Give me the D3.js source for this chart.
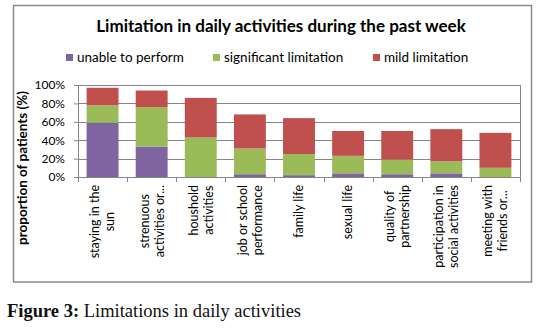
<!DOCTYPE html>
<html>
<head>
<meta charset="utf-8">
<script src="https://cdn.jsdelivr.net/npm/d3@7"></script>
<style>
  body { margin: 0; background: #fff; }
  svg { display: block; }
</style>
</head>
<body>
<div id="chart"></div>
<script>
// data
const categories = [
  'staying in the sun',
  'strenuous activities or...',
  'houshold activities',
  'job or school performance',
  'family life',
  'sexual life',
  'quality of partnership',
  'participation in social activities',
  'meeting with friends or...'
]
const categoryLines = [
  ['staying in the', 'sun'],
  ['strenuous', 'activities or...'],
  ['houshold', 'activities'],
  ['job or school', 'performance'],
  ['family life'],
  ['sexual life'],
  ['quality of', 'partnership'],
  ['participation in', 'social activities'],
  ['meeting with', 'friends or...']
]
const seriesNames = ['unable to perform', 'significant limitation', 'mild limitation']
const unable = [59, 33, 0, 3, 2, 4, 3, 4, 0]
const significant = [19, 43, 43, 28, 23, 19, 16, 13, 10]
const mild = [19, 18, 43, 37, 39, 27, 31, 35, 38]
const yTicks = [0, 20, 40, 60, 80, 100]
const colors = ['#8064A2', '#9BBB59', '#C0504D']

const W = 539, H = 330
const margin = { left: 78, right: 19, top: 85, bottom: 153 }
const plotW = W - margin.left - margin.right
const plotH = H - margin.top - margin.bottom
const font = 'Lato, "Open Sans", sans-serif'
const gray = '#868686'

let svg = d3.select('#chart').append('svg').attr('width', W).attr('height', H)

// chart frame
svg.append('rect')
  .attr('x', 13.5).attr('y', 5.5).attr('width', 518).attr('height', 276.5)
  .attr('fill', '#fff').attr('stroke', '#8a8a8a').attr('stroke-width', 1.5)

svg.append('text')
  .attr('x', 281).attr('y', 32)
  .attr('text-anchor', 'middle')
  .style('font-family', font).style('font-weight', 'bold').style('font-size', '17px')
  .attr('fill', '#000')
  .text('Limitation in daily activities during the past week')

// legend
let legendX = [66, 213, 373]
let legend = svg.append('g').selectAll('g').data(seriesNames).enter().append('g')
  .attr('transform', (d, i) => 'translate(' + legendX[i] + ',0)')
legend.append('rect').attr('x', 0).attr('y', 54).attr('width', 7).attr('height', 7)
  .attr('fill', (d, i) => colors[i])
legend.append('text').attr('x', 11).attr('y', 62)
  .style('font-family', font).style('font-size', '13.5px').attr('fill', '#000')
  .text((d) => d)

let g = svg.append('g').attr('transform', 'translate(' + margin.left + ',' + margin.top + ')')

let x = d3.scaleBand().domain(categories).range([0, plotW]).paddingInner(0.35).paddingOuter(0.175)
let y = d3.scaleLinear().domain([0, 100]).range([plotH, 0])

// gridlines
g.append('g').selectAll('line').data(yTicks.filter((d) => d > 0)).enter().append('line')
  .attr('x1', 0).attr('x2', plotW)
  .attr('y1', (d) => Math.round(y(d)) + 0.5).attr('y2', (d) => Math.round(y(d)) + 0.5)
  .attr('stroke', gray).attr('stroke-width', 1)

// right border of plot area
g.append('line').attr('x1', plotW + 0.5).attr('x2', plotW + 0.5).attr('y1', 0).attr('y2', plotH)
  .attr('stroke', gray)

// stacked bars
let rows = categories.map((c, i) => ({ cat: c, unable: unable[i], significant: significant[i], mild: mild[i] }))
let stack = d3.stack().keys(['unable', 'significant', 'mild'])(rows)

g.append('g').selectAll('g').data(stack).enter().append('g')
  .attr('fill', (d, i) => colors[i])
  .selectAll('rect').data((d) => d).enter().append('rect')
  .attr('x', (d) => x(d.data.cat))
  .attr('width', x.bandwidth())
  .attr('y', (d) => y(d[1]))
  .attr('height', (d) => y(d[0]) - y(d[1]))

// y axis
let yAxis = d3.axisLeft(y).tickValues(yTicks).tickFormat((d) => d + '%').tickSize(4).tickPadding(9)
let ya = g.append('g').call(yAxis)
ya.select('.domain').attr('stroke', gray).attr('d', 'M0.5,0V' + plotH)
ya.selectAll('.tick line').attr('stroke', gray)
ya.selectAll('.tick text').style('font-family', font).style('font-size', '12px').attr('fill', '#000')

// x axis line and ticks at category boundaries
g.append('line').attr('x1', 0).attr('x2', plotW + 1).attr('y1', plotH + 0.5).attr('y2', plotH + 0.5)
  .attr('stroke', gray)
let step = x.step()
g.append('g').selectAll('line').data(d3.range(categories.length + 1)).enter().append('line')
  .attr('x1', (d) => Math.round(d * step) + 0.5).attr('x2', (d) => Math.round(d * step) + 0.5)
  .attr('y1', plotH).attr('y2', plotH + 5)
  .attr('stroke', gray)

// category labels, rotated
let labelTop = plotH + 8
let lh = 15
let labels = g.append('g').selectAll('g').data(categories).enter().append('g')
  .attr('transform', (d) => 'translate(' + (x(d) + x.bandwidth() / 2) + ',' + labelTop + ') rotate(-90)')
labels.each(function (d, i) {
  let lines = categoryLines[i]
  let grp = d3.select(this)
  let texts = grp.selectAll('text').data(lines).enter().append('text')
    .attr('text-anchor', 'middle')
    .attr('y', (t, j) => (j - (lines.length - 1) / 2) * lh)
    .attr('dy', '0.35em')
    .style('font-family', font).style('font-size', '12.5px').attr('fill', '#000')
    .text((t) => t)
  let maxLen = d3.max(texts.nodes(), (n) => n.getComputedTextLength())
  texts.attr('x', -maxLen / 2)
})

// y axis title
svg.append('text')
  .attr('transform', 'translate(27,168) rotate(-90)')
  .attr('text-anchor', 'middle')
  .style('font-family', font).style('font-weight', 'bold').style('font-size', '13.5px')
  .attr('fill', '#000')
  .text('proportion of patients (%)')

// figure caption
let cap = svg.append('text').attr('x', 7).attr('y', 317)
  .style('font-family', '"Liberation Serif", "DejaVu Serif", serif').style('font-size', '18.5px')
  .attr('fill', '#111')
cap.append('tspan').style('font-weight', 'bold').text('Figure 3:')
cap.append('tspan').text(' Limitations in daily activities')
</script>
</body>
</html>
